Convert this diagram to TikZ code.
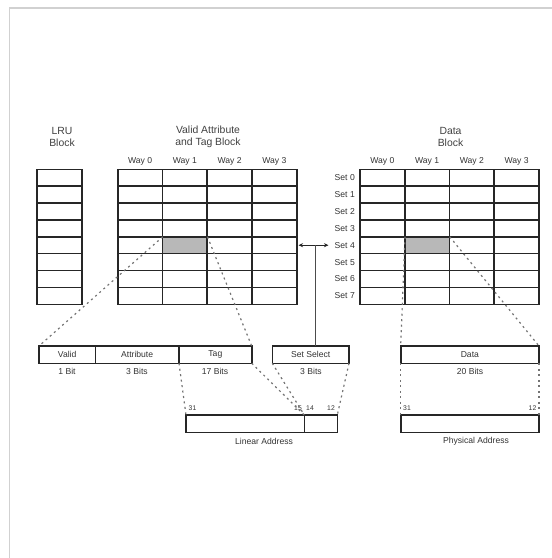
\documentclass[tikz,border=0pt]{standalone}
\usepackage{fontspec}
\setmainfont{Liberation Sans}
\usetikzlibrary{arrows.meta}
\newcommand{\labelfont}{\fontsize{8.6}{10}\selectfont}
\newcommand{\headfont}{\fontsize{10.4}{12}\selectfont}
\newcommand{\bitfont}{\fontsize{6.8}{8}\selectfont}

\begin{document}
\begin{tikzpicture}[x=1pt, y=-1pt,
        cellline/.style={line width=1.6pt, black!85},
        field/.style={draw=black!85, line width=1.6pt, rectangle, inner sep=0pt, outer sep=0pt,
            minimum height=17.3pt, anchor=north west, font=\labelfont, text=black!80},
        shadecell/.style={fill=black!28, rectangle, inner sep=0pt, outer sep=0pt,
            minimum width=44.75pt, minimum height=16.875pt, anchor=north west},
        spread/.style={black!55, line width=1.2pt, dash pattern=on 2pt off 3.5pt},
        lbl/.style={inner sep=0pt, font=\labelfont, text=black!80},
        bitno/.style={inner sep=0pt, font=\bitfont, text=black!80},
        head/.style={inner sep=0pt, font=\headfont, align=center, text=black!75}]
        \useasboundingbox (0,0) rectangle (552,558);
        \draw[black!18, line width=1.5pt] (9.5,558) -- (9.5,8) -- (552,8);

        \node[head] (lruhead) at (62,137) {LRU\\Block};
        \node[head] (taghead) at (208,137) {Valid Attribute\\and Tag Block};
        \node[head] (datahead) at (450.5,137) {Data\\Block};

        \node[shadecell] (tagcell) at (162.7,236.8) {};
        \node[shadecell] (datacell) at (405,236.8) {};

        % LRU block
        \foreach \r in {1,...,7}
            \draw[cellline] (37,{169.3+16.875*\r}) -- (82,{169.3+16.875*\r});
        \draw[cellline] (37,169.3) rectangle (82,304.3);

        % tag and data blocks
        \foreach \left in {117.7, 360} {
            \foreach \r in {1,...,7}
                \draw[cellline] (\left,{169.3+16.875*\r}) -- ({\left+179},{169.3+16.875*\r});
            \foreach \c in {1,2,3}
                \draw[cellline] ({\left+44.75*\c},169.3) -- ({\left+44.75*\c},304.3);
            \draw[cellline] (\left,169.3) rectangle ({\left+179},304.3);
            \foreach \c in {0,...,3}
                \node[lbl] at ({\left+22.4+44.75*\c},161) {Way \c};
        }

        \foreach \r in {0,...,7}
            \node[lbl, anchor=east] (set\r) at (355,{177.7+16.875*\r}) {Set \r};

        % fields
        \node[field, minimum width=56.3pt] (valid) at (39,346) {Valid};
        \node[field, minimum width=83.7pt] (attr) at (95.3,346) {Attribute};
        \node[field, minimum width=72.7pt] (tag) at (179,346) {Tag};
        \node[field, minimum width=76.7pt] (setsel) at (272.3,346) {Set Select};
        \node[field, minimum width=138.3pt] (data) at (400.7,346) {Data};

        \node[lbl] (validbits) at (67,371) {1 Bit};
        \node[lbl] (attrbits) at (137,371) {3 Bits};
        \node[lbl] (tagbits) at (215,371) {17 Bits};
        \node[lbl] (setbits) at (311,371) {3 Bits};
        \node[lbl] (databits) at (470,371) {20 Bits};

        % addresses
        \node[field, minimum width=118.3pt] (linhigh) at (186,415) {};
        \node[field, minimum width=33pt] (linlow) at (304.3,415) {};
        \node[field, minimum width=138.3pt] (physaddr) at (400.7,415) {};
        \node[lbl] (linlabel) at (264,441) {Linear Address};
        \node[lbl] (physlabel) at (476,441) {Physical Address};

        \node[bitno] (lin31) at (192.5,408) {31};
        \node[bitno] (lin15) at (298,408) {15};
        \node[bitno] (lin14) at (310,408) {14};
        \node[bitno] (lin12) at (331,408) {12};
        \node[bitno] (phys31) at (407,408) {31};
        \node[bitno] (phys12) at (532.5,408) {12};

        % set select
        \coordinate (arrleft) at (298.5,245.2);
        \coordinate (arrright) at (328.5,245.2);
        \coordinate (arrstem) at (315,245.2);
        \draw[{Stealth[length=4.5pt,width=4pt]}-{Stealth[length=4.5pt,width=4pt]}, black!85, line width=0.9pt] (arrleft) -- (arrright);
        \draw[black!70, line width=1pt] (arrstem) -- (arrstem |- setsel.north);

        \draw[spread] (tagcell.north west) -- (valid.north west);
        \draw[spread] (tagcell.north east) -- (tag.north east);
        \draw[spread] (tag.south west) -- (linhigh.north west);
        \draw[spread] (tag.south east) -- (linlow.north west);
        \draw[spread] (setsel.south west) -- (linlow.north west);
        \draw[spread] (setsel.south east) -- (linlow.north east);
        \draw[spread] (datacell.north west) -- (data.north west);
        \draw[spread] (datacell.north east) -- (data.north east);
        \draw[spread] (data.south west) -- (physaddr.north west);
        \draw[spread] (data.south east) -- (physaddr.north east);
    \end{tikzpicture}
\end{document}
